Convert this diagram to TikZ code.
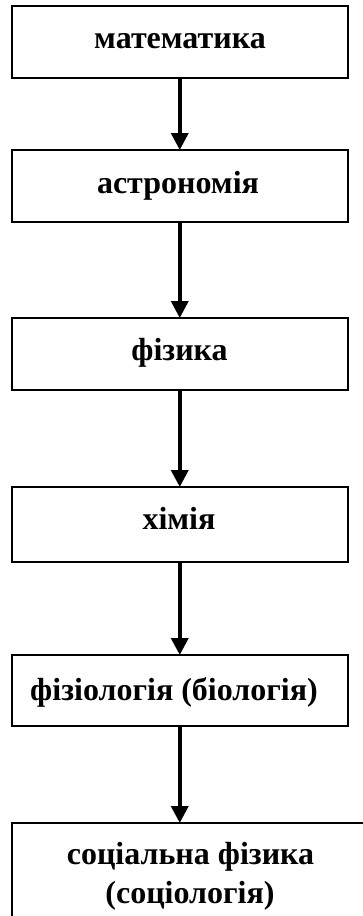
\documentclass[tikz,border=0pt]{standalone}
\usepackage{fontspec}
\setmainfont{Liberation Serif}
\usetikzlibrary{arrows.meta}
\begin{document}
\begin{tikzpicture}[x=1pt,y=-1pt,
  box/.style={draw,line width=2pt,rectangle,inner sep=0pt,outer sep=0pt,minimum width=336.5pt},
  lbl/.style={anchor=base,inner sep=0pt,font=\fontsize{32}{38}\selectfont\bfseries},
  conn/.style={line width=3.5pt,-{Triangle[width=17pt,length=17pt]}}]
\useasboundingbox (0,0) rectangle (363,916);
\clip (0,0) rectangle (363,916);
\node[box,minimum height=72pt] (b1) at (179.75,42) {};
\node[box,minimum height=72pt] (b2) at (179.75,186) {};
\node[box,minimum height=72pt] (b3) at (179.75,354) {};
\node[box,minimum height=75pt] (b4) at (179.75,524.5) {};
\node[box,minimum height=71pt] (b5) at (179.75,690.5) {};
\node[box,minimum width=358pt,minimum height=130pt] (b6) at (191,888) {};
\node[lbl] (t1) at (180,48.3) {математика};
\node[lbl] (t2) at (178,193) {астрономія};
\node[lbl] (t3) at (179.5,360.5) {фізика};
\node[lbl] (t4) at (179,529) {хімія};
\node[lbl] (t5) at (174,700) {фізіологія (біологія)};
\node[lbl] (t6a) at (190.5,864) {соціальна фізика};
\node[lbl] (t6b) at (190,903) {(соціологія)};
\draw[conn] (b1.south) -- (b2.north);
\draw[conn] (b2.south) -- (b3.north);
\draw[conn] (b3.south) -- (b4.north);
\draw[conn] (b4.south) -- (b5.north);
\draw[conn] (b5.south) -- (b6.north -| b5.south);
\end{tikzpicture}
\end{document}
